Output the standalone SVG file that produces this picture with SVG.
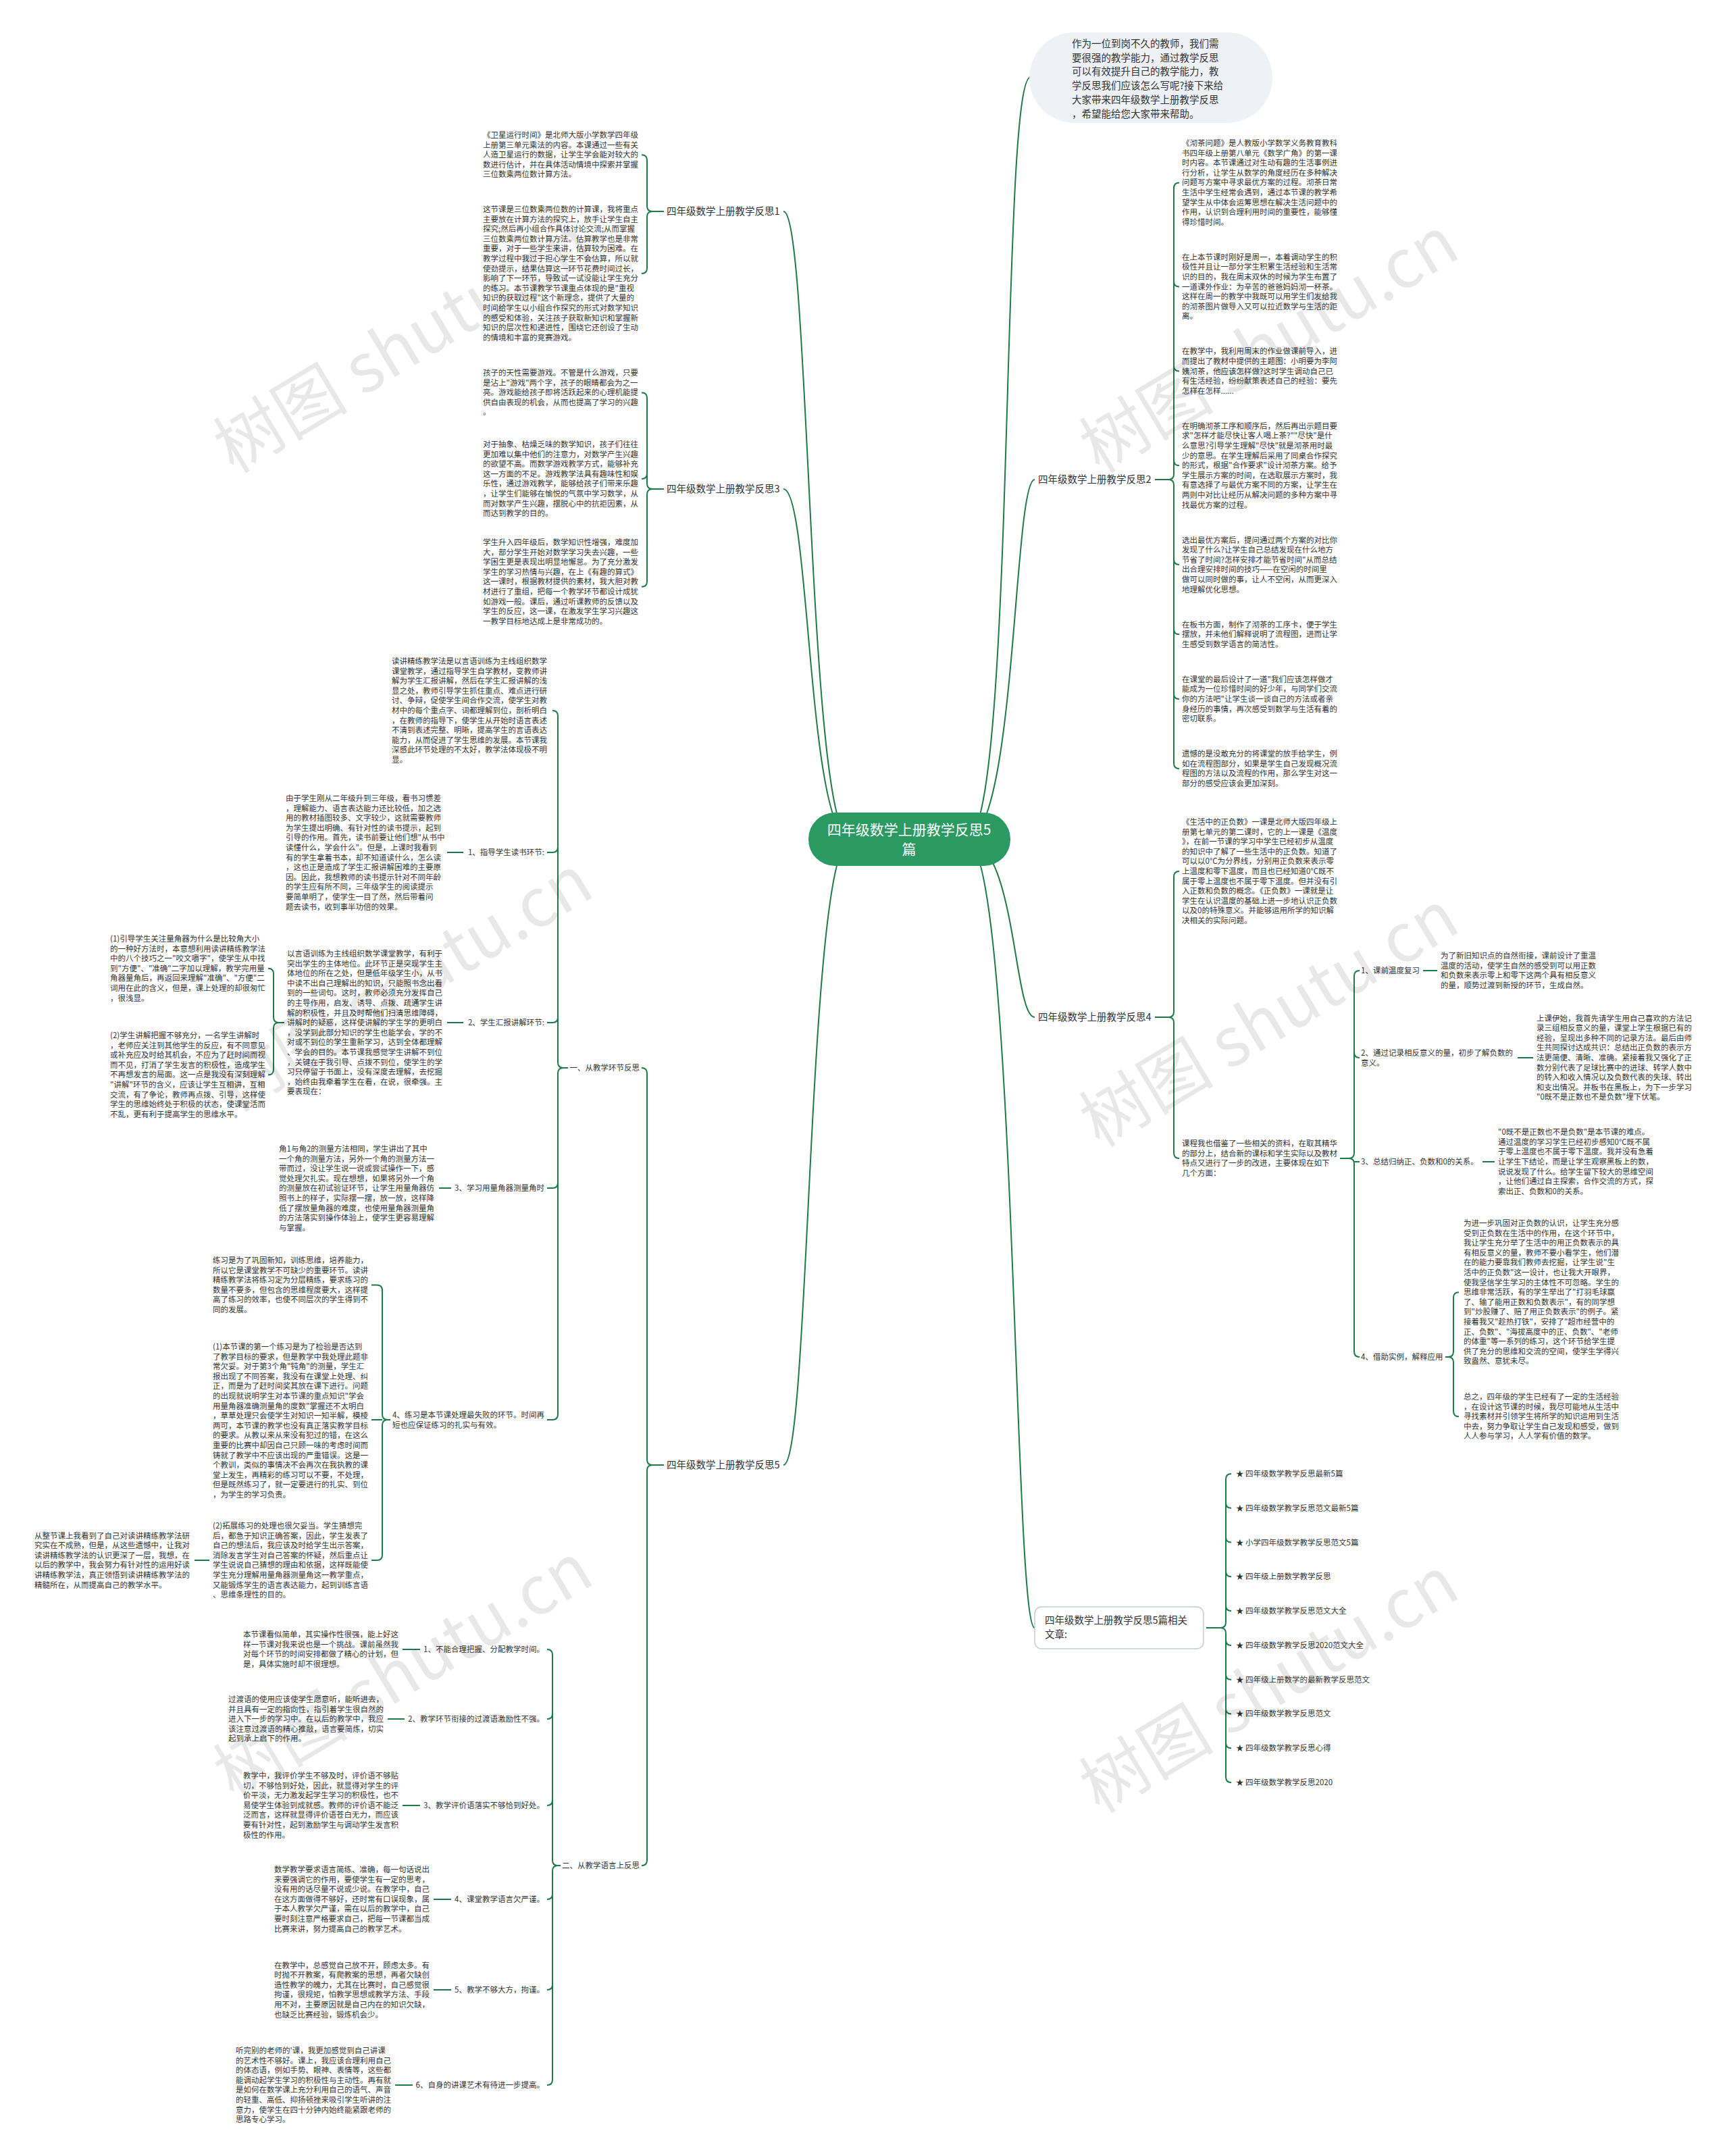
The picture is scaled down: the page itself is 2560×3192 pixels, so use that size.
<svg xmlns="http://www.w3.org/2000/svg" width="2560" height="3192" viewBox="0 0 2560 3192">
<style>
.t{font-family:"Noto Sans CJK SC","Noto Sans",sans-serif;font-size:11.5px;fill:#333}
.l{font-size:14.5px}
.c{stroke:#1f7a4a;stroke-width:2;fill:none}
.wm{font-family:"Noto Sans CJK SC","Noto Sans",sans-serif;font-size:100px;fill:#000;fill-opacity:0.09}
</style>
<rect width="2560" height="3192" fill="#fff"/>
<g id="connectors">
<path class="c" d="M1260 1243C1195 1243 1200 313 1160 313M1260 1243C1195 1243 1200 724 1160 724M1260 1243C1195 1243 1200 2169 1160 2169"/>
<path class="c" d="M1430 1243C1505 1243 1480 114 1526 114M1430 1243C1505 1243 1500 710 1532 710M1430 1243C1505 1243 1500 1506 1532 1506M1430 1243C1505 1243 1500 2410 1532 2410"/>
<path class="c" d="M950 229.2Q958 229.2 958 237.2L958 305Q958 313 966 313Q958 313 958 321L958 396.9Q958 404.9 950 404.9M966 313L983 313"/>
<path class="c" d="M950 581.2Q958 581.2 958 589.2L958 716Q958 724 966 724Q958 724 958 732L958 860.7Q958 868.7 950 868.7M958 701.1Q958 709.1 950 709.1M966 724L983 724"/>
<path class="c" d="M950 1581Q958 1581 958 1589L958 2161Q958 2169 966 2169Q958 2169 958 2177L958 2754Q958 2762 950 2762M966 2169L983 2169"/>
<path class="c" d="M818 1052Q826 1052 826 1060L826 1573Q826 1581 834 1581Q826 1581 826 1589L826 2094Q826 2102 818 2102M826 1254Q826 1262 818 1262L810 1262M826 1506Q826 1514 818 1514L810 1514M826 1751Q826 1759 818 1759L810 1759M818 2102L810 2102M834 1581L841 1581"/>
<path class="c" d="M686 1262L662 1262M686 1514L662 1514M668 1759L650 1759"/>
<path class="c" d="M397 1433.8Q405 1433.8 405 1441.8L405 1506Q405 1514 413 1514Q405 1514 405 1522L405 1583.4Q405 1591.4 397 1591.4M413 1514L421 1514"/>
<path class="c" d="M558 1902.5Q566 1902.5 566 1910.5L566 2094Q566 2102 574 2102Q566 2102 566 2110L566 2302Q566 2310 558 2310M574 2102L578 2102M566 2102L550 2102M558 1902.5L550 1902.5M558 2310L550 2310M310 2310L288 2310"/>
<path class="c" d="M810 2442Q818 2442 818 2450L818 2754Q818 2762 826 2762Q818 2762 818 2770L818 3079Q818 3087 810 3087M818 2537Q818 2545 810 2545M818 2665Q818 2673 810 2673M818 2804Q818 2812 810 2812M818 2938Q818 2946 810 2946M826 2762L830 2762"/>
<path class="c" d="M622 2442L596 2442M599 2545L574 2545M622 2673L596 2673M668 2812L642 2812M668 2946L642 2946M611 3087L585 3087"/>
<path class="c" d="M1746 270.4Q1738 270.4 1738 278.4L1738 702Q1738 710 1730 710Q1738 710 1738 718L1738 1130.1Q1738 1138.1 1746 1138.1M1738 416.6Q1738 424.6 1746 424.6M1738 541.6Q1738 549.6 1746 549.6M1738 681.2Q1738 689.2 1746 689.2M1738 828.1Q1738 836.1 1746 836.1M1738 931.2Q1738 939.2 1746 939.2M1738 1027Q1738 1035 1746 1035M1710 710L1730 710"/>
<path class="c" d="M1746 1290Q1738 1290 1738 1298L1738 1498Q1738 1506 1730 1506Q1738 1506 1738 1514L1738 1706.9Q1738 1714.9 1746 1714.9M1710 1506L1730 1506"/>
<path class="c" d="M2013 1437Q2005 1437 2005 1445L2005 1707Q2005 1715 1997 1715Q2005 1715 2005 1723L2005 2001Q2005 2009 2013 2009M2005 1558Q2005 1566 2013 1566M2005 1720L2013 1720M1984 1715L1997 1715M2107 1437L2128 1437M2247 1566L2270 1566M2195 1720L2213 1720"/>
<path class="c" d="M2160 1913.2Q2152 1913.2 2152 1921.2L2152 2001Q2152 2009 2144 2009Q2152 2009 2152 2017L2152 2089.2Q2152 2097.2 2160 2097.2M2140 2009L2144 2009"/>
<path class="c" d="M1823 2182Q1815 2182 1815 2190L1815 2402Q1815 2410 1807 2410Q1815 2410 1815 2418L1815 2631Q1815 2639 1823 2639M1815 2224.8Q1815 2232.8 1823 2232.8M1815 2275.6Q1815 2283.6 1823 2283.6M1815 2326.3Q1815 2334.3 1823 2334.3M1815 2377.1Q1815 2385.1 1823 2385.1M1815 2427.9Q1815 2435.9 1823 2435.9M1815 2478.7Q1815 2486.7 1823 2486.7M1815 2529.4Q1815 2537.4 1823 2537.4M1815 2580.2Q1815 2588.2 1823 2588.2M1786 2410L1807 2410"/>
</g>

<g id="node-center">
<rect x="1197" y="1203" width="299" height="79" rx="39" fill="#2b9a62"/>
<text class="t" x="1346" y="1236" text-anchor="middle" style="font-size:21px;fill:#fff">四年级数学上册教学反思5</text>
<text class="t" x="1346" y="1265" text-anchor="middle" style="font-size:21px;fill:#fff">篇</text>
</g>

<g id="node-intro">
<rect x="1524" y="48" width="360" height="134" rx="67" fill="#eef1f5"/>
<text class="t" x="1587" y="70" style="font-size:14.5px"><tspan x="1587">作为一位到岗不久的教师，我们需</tspan><tspan x="1587" dy="20.7">要很强的教学能力，通过教学反思</tspan><tspan x="1587" dy="20.7">可以有效提升自己的教学能力，教</tspan><tspan x="1587" dy="20.7">学反思我们应该怎么写呢?接下来给</tspan><tspan x="1587" dy="20.7">大家带来四年级数学上册教学反思</tspan><tspan x="1587" dy="20.7">，希望能给您大家带来帮助。</tspan></text>
</g>

<g id="node-r1"><text class="t l" x="987" y="318">四年级数学上册教学反思1</text></g>
<g id="node-r1a"><text class="t" x="715" y="204"><tspan x="715">《卫星运行时间》是北师大版小学数学四年级</tspan><tspan x="715" dy="14.6">上册第三单元乘法的内容。本课通过一些有关</tspan><tspan x="715" dy="14.6">人造卫星运行的数据，让学生学会能对较大的</tspan><tspan x="715" dy="14.6">数进行估计，并在具体活动情境中探索并掌握</tspan><tspan x="715" dy="14.6">三位数乘两位数计算方法。</tspan></text></g>
<g id="node-r1b"><text class="t" x="715" y="314"><tspan x="715">这节课是三位数乘两位数的计算课，我将重点</tspan><tspan x="715" dy="14.6">主要放在计算方法的探究上，放手让学生自主</tspan><tspan x="715" dy="14.6">探究;然后再小组合作具体讨论交流;从而掌握</tspan><tspan x="715" dy="14.6">三位数乘两位数计算方法。估算教学也是非常</tspan><tspan x="715" dy="14.6">重要，对于一些学生来讲，估算较为困难。在</tspan><tspan x="715" dy="14.6">教学过程中我过于担心学生不会估算，所以就</tspan><tspan x="715" dy="14.6">使劲提示，结果估算这一环节花费时间过长，</tspan><tspan x="715" dy="14.6">影响了下一环节，导致试一试没能让学生充分</tspan><tspan x="715" dy="14.6">的练习。本节课教学节课重点体现的是"重视</tspan><tspan x="715" dy="14.6">知识的获取过程"这个新理念，提供了大量的</tspan><tspan x="715" dy="14.6">时间给学生以小组合作探究的形式对数学知识</tspan><tspan x="715" dy="14.6">的感受和体验，关注孩子获取新知识和掌握新</tspan><tspan x="715" dy="14.6">知识的层次性和递进性，围绕它还创设了生动</tspan><tspan x="715" dy="14.6">的情境和丰富的竞赛游戏。</tspan></text></g>

<g id="node-r3"><text class="t l" x="987" y="729">四年级数学上册教学反思3</text></g>
<g id="node-r3a"><text class="t" x="715" y="556"><tspan x="715">孩子的天性需要游戏。不管是什么游戏，只要</tspan><tspan x="715" dy="14.6">是沾上"游戏"两个字，孩子的眼睛都会为之一</tspan><tspan x="715" dy="14.6">亮。游戏能给孩子即将活跃起来的心理机能提</tspan><tspan x="715" dy="14.6">供自由表现的机会，从而也提高了学习的兴趣</tspan><tspan x="715" dy="14.6">。</tspan></text></g>
<g id="node-r3b"><text class="t" x="715" y="662"><tspan x="715">对于抽象、枯燥乏味的数学知识，孩子们往往</tspan><tspan x="715" dy="14.6">更加难以集中他们的注意力，对数学产生兴趣</tspan><tspan x="715" dy="14.6">的欲望不高。而数学游戏教学方式，能够补充</tspan><tspan x="715" dy="14.6">这一方面的不足。游戏教学法具有趣味性和娱</tspan><tspan x="715" dy="14.6">乐性，通过游戏教学，能够给孩子们带来乐趣</tspan><tspan x="715" dy="14.6">，让学生们能够在愉悦的气氛中学习数学，从</tspan><tspan x="715" dy="14.6">而对数学产生兴趣，摆脱心中的抗拒因素，从</tspan><tspan x="715" dy="14.6">而达到教学的目的。</tspan></text></g>
<g id="node-r3c"><text class="t" x="715" y="807"><tspan x="715">学生升入四年级后，数学知识性增强，难度加</tspan><tspan x="715" dy="14.6">大，部分学生开始对数学学习失去兴趣，一些</tspan><tspan x="715" dy="14.6">学困生更是表现出明显地懈怠。为了充分激发</tspan><tspan x="715" dy="14.6">学生的学习热情与兴趣，在上《有趣的算式》</tspan><tspan x="715" dy="14.6">这一课时，根据教材提供的素材，我大胆对教</tspan><tspan x="715" dy="14.6">材进行了重组，把每一个教学环节都设计成犹</tspan><tspan x="715" dy="14.6">如游戏一般。课后，通过听课教师的反馈以及</tspan><tspan x="715" dy="14.6">学生的反应，这一课，在激发学生学习兴趣这</tspan><tspan x="715" dy="14.6">一教学目标地达成上是非常成功的。</tspan></text></g>

<g id="node-r5"><text class="t l" x="987" y="2174">四年级数学上册教学反思5</text></g>
<g id="node-r5-1"><text class="t" x="947" y="1585" text-anchor="end">一、从教学环节反思</text></g>
<g id="node-r5-2"><text class="t" x="947" y="2766" text-anchor="end">二、从教学语言上反思</text></g>
<g id="node-dujiang"><text class="t" x="580" y="983"><tspan x="580">读讲精练教学法是以言语训练为主线组织数学</tspan><tspan x="580" dy="14.6">课堂教学，通过指导学生自学教材，变教师讲</tspan><tspan x="580" dy="14.6">解为学生汇报讲解，然后在学生汇报讲解的浅</tspan><tspan x="580" dy="14.6">显之处，教师引导学生抓住重点、难点进行研</tspan><tspan x="580" dy="14.6">讨、争辩，促使学生间合作交流，使学生对教</tspan><tspan x="580" dy="14.6">材中的每个重点字、词都理解到位，剖析明白</tspan><tspan x="580" dy="14.6">，在教师的指导下，使学生从开始时语言表述</tspan><tspan x="580" dy="14.6">不清到表述完整、明晰，提高学生的言语表达</tspan><tspan x="580" dy="14.6">能力，从而促进了学生思维的发展。本节课我</tspan><tspan x="580" dy="14.6">深感此环节处理的不太好，教学法体现极不明</tspan><tspan x="580" dy="14.6">显。</tspan></text></g>
<g id="node-e1"><text class="t" x="806" y="1266" text-anchor="end">1、指导学生读书环节:</text></g>
<g id="node-e1t"><text class="t" x="423" y="1186"><tspan x="423">由于学生刚从二年级升到三年级，看书习惯差</tspan><tspan x="423" dy="14.6">，理解能力、语言表达能力还比较低，加之选</tspan><tspan x="423" dy="14.6">用的教材插图较多、文字较少，这就需要教师</tspan><tspan x="423" dy="14.6">为学生提出明确、有针对性的读书提示，起到</tspan><tspan x="423" dy="14.6">引导的作用。首先，读书前要让他们想"从书中</tspan><tspan x="423" dy="14.6">读懂什么，学会什么"。但是，上课时我看到</tspan><tspan x="423" dy="14.6">有的学生拿着书本，却不知道读什么，怎么读</tspan><tspan x="423" dy="14.6">，这也正是造成了学生汇报讲解困难的主要原</tspan><tspan x="423" dy="14.6">因。因此，我想教师的读书提示针对不同年龄</tspan><tspan x="423" dy="14.6">的学生应有所不同，三年级学生的阅读提示</tspan><tspan x="423" dy="14.6">要简单明了，使学生一目了然，然后带着问</tspan><tspan x="423" dy="14.6">题去读书，收到事半功倍的效果。</tspan></text></g>
<g id="node-e2"><text class="t" x="806" y="1518" text-anchor="end">2、学生汇报讲解环节:</text></g>
<g id="node-e2t"><text class="t" x="425" y="1416"><tspan x="425">以言语训练为主线组织数学课堂教学，有利于</tspan><tspan x="425" dy="14.6">突出学生的主体地位。此环节正是突现学生主</tspan><tspan x="425" dy="14.6">体地位的所在之处，但是低年级学生小，从书</tspan><tspan x="425" dy="14.6">中读不出自己理解出的知识，只能照书念出看</tspan><tspan x="425" dy="14.6">到的一些词句。这时，教师必须充分发挥自己</tspan><tspan x="425" dy="14.6">的主导作用，启发、诱导、点拨、疏通学生讲</tspan><tspan x="425" dy="14.6">解的积极性，并且及时帮他们扫清思维障碍，</tspan><tspan x="425" dy="14.6">讲解时的疑惑，这样使讲解的学生学的更明白</tspan><tspan x="425" dy="14.6">，没学到此部分知识的学生也能学会，学的不</tspan><tspan x="425" dy="14.6">对或不到位的学生重新学习，达到全体都理解</tspan><tspan x="425" dy="14.6">、学会的目的。本节课我感觉学生讲解不到位</tspan><tspan x="425" dy="14.6">，关键在于我引导、点拨不到位，使学生的学</tspan><tspan x="425" dy="14.6">习只停留于书面上，没有深度去理解，去挖掘</tspan><tspan x="425" dy="14.6">，始终由我牵着学生在看，在说，很牵强。主</tspan><tspan x="425" dy="14.6">要表现在：</tspan></text></g>
<g id="node-e2a"><text class="t" x="163" y="1394"><tspan x="163">(1)引导学生关注量角器为什么是比较角大小</tspan><tspan x="163" dy="14.6">的一种好方法时，本意想利用读讲精练教学法</tspan><tspan x="163" dy="14.6">中的八个技巧之一"咬文嚼字"，使学生从中找</tspan><tspan x="163" dy="14.6">到"方便"、"准确"二字加以理解，教学完用量</tspan><tspan x="163" dy="14.6">角器量角后，再返回来理解"准确"、"方便"二</tspan><tspan x="163" dy="14.6">词用在此的含义，但是，课上处理的却很匆忙</tspan><tspan x="163" dy="14.6">，很浅显。</tspan></text></g>
<g id="node-e2b"><text class="t" x="163" y="1537"><tspan x="163">(2)学生讲解把握不够充分，一名学生讲解时</tspan><tspan x="163" dy="14.6">，老师应关注到其他学生的反应，有不同意见</tspan><tspan x="163" dy="14.6">或补充应及时给其机会，不应为了赶时间而视</tspan><tspan x="163" dy="14.6">而不见，打消了学生发言的积极性，造成学生</tspan><tspan x="163" dy="14.6">不再想发言的局面。这一点是我没有深刻理解</tspan><tspan x="163" dy="14.6">"讲解"环节的含义，应该让学生互相讲，互相</tspan><tspan x="163" dy="14.6">交流，有了争论，教师再点拨、引导，这样使</tspan><tspan x="163" dy="14.6">学生的思维始终处于积极的状态，使课堂活而</tspan><tspan x="163" dy="14.6">不乱，更有利于提高学生的思维水平。</tspan></text></g>
<g id="node-e3"><text class="t" x="806" y="1763" text-anchor="end">3、学习用量角器测量角时</text></g>
<g id="node-e3t"><text class="t" x="413" y="1705"><tspan x="413">角1与角2的测量方法相同，学生讲出了其中</tspan><tspan x="413" dy="14.6">一个角的测量方法，另外一个角的测量方法一</tspan><tspan x="413" dy="14.6">带而过，没让学生说一说或尝试操作一下，感</tspan><tspan x="413" dy="14.6">觉处理欠扎实。现在想想，如果将另外一个角</tspan><tspan x="413" dy="14.6">的测量放在初试验证环节，让学生用量角器仿</tspan><tspan x="413" dy="14.6">照书上的样子，实际摆一摆，放一放，这样降</tspan><tspan x="413" dy="14.6">低了摆放量角器的难度，也使用量角器测量角</tspan><tspan x="413" dy="14.6">的方法落实到操作体验上，使学生更容易理解</tspan><tspan x="413" dy="14.6">与掌握。</tspan></text></g>
<g id="node-e4"><text class="t" x="581" y="2099"><tspan x="581">4、练习是本节课处理最失败的环节。时间再</tspan><tspan x="581" dy="14.6">短也应保证练习的扎实与有效。</tspan></text></g>
<g id="node-e4a"><text class="t" x="315" y="1870"><tspan x="315">练习是为了巩固新知，训练思维，培养能力，</tspan><tspan x="315" dy="14.6">所以它是课堂教学不可缺少的重要环节。读讲</tspan><tspan x="315" dy="14.6">精练教学法将练习定为分层精练，要求练习的</tspan><tspan x="315" dy="14.6">数量不要多，但包含的思维程度要大，这样提</tspan><tspan x="315" dy="14.6">高了练习的效率，也使不同层次的学生得到不</tspan><tspan x="315" dy="14.6">同的发展。</tspan></text></g>
<g id="node-e4b"><text class="t" x="315" y="1998"><tspan x="315">(1)本节课的第一个练习是为了检验是否达到</tspan><tspan x="315" dy="14.6">了教学目标的要求，但是教学中我处理此题非</tspan><tspan x="315" dy="14.6">常欠妥。对于第3个角"钝角"的测量，学生汇</tspan><tspan x="315" dy="14.6">报出现了不同答案，我没有在课堂上处理、纠</tspan><tspan x="315" dy="14.6">正，而是为了赶时间奖其放在课下进行。问题</tspan><tspan x="315" dy="14.6">的出现就说明学生对本节课的重点知识"学会</tspan><tspan x="315" dy="14.6">用量角器准确测量角的度数"掌握还不太明白</tspan><tspan x="315" dy="14.6">，草草处理只会使学生对知识一知半解，模棱</tspan><tspan x="315" dy="14.6">两可，本节课的教学也没有真正落实教学目标</tspan><tspan x="315" dy="14.6">的要求。从教以来从来没有犯过的错，在这么</tspan><tspan x="315" dy="14.6">重要的比赛中却因自己只顾一味的考虑时间而</tspan><tspan x="315" dy="14.6">铸就了教学中不应该出现的严重错误。这是一</tspan><tspan x="315" dy="14.6">个教训，类似的事情决不会再次在我执教的课</tspan><tspan x="315" dy="14.6">堂上发生，再精彩的练习可以不要，不处理，</tspan><tspan x="315" dy="14.6">但是既然练习了，就一定要进行的扎实、到位</tspan><tspan x="315" dy="14.6">，为学生的学习负责。</tspan></text></g>
<g id="node-e4c"><text class="t" x="315" y="2263"><tspan x="315">(2)拓展练习的处理也很欠妥当。学生猜想完</tspan><tspan x="315" dy="14.6">后，都急于知识正确答案，因此，学生发表了</tspan><tspan x="315" dy="14.6">自己的想法后，我应该及时给学生出示答案，</tspan><tspan x="315" dy="14.6">消除发言学生对自己答案的怀疑，然后重点让</tspan><tspan x="315" dy="14.6">学生说说自己猜想的理由和依据，这样既能使</tspan><tspan x="315" dy="14.6">学生充分理解用量角器测量角这一教学重点，</tspan><tspan x="315" dy="14.6">又能锻炼学生的语言表达能力，起到训练言语</tspan><tspan x="315" dy="14.6">、思维条理性的目的。</tspan></text></g>
<g id="node-e4d"><text class="t" x="51" y="2277.5"><tspan x="51">从整节课上我看到了自己对读讲精练教学法研</tspan><tspan x="51" dy="14.6">究实在不成熟，但是，从这些遗憾中，让我对</tspan><tspan x="51" dy="14.6">读讲精练教学法的认识更深了一层，我想，在</tspan><tspan x="51" dy="14.6">以后的教学中，我会努力有针对性的运用好读</tspan><tspan x="51" dy="14.6">讲精练教学法，真正领悟到读讲精练教学法的</tspan><tspan x="51" dy="14.6">精髓所在，从而提高自己的教学水平。</tspan></text></g>

<g id="node-y1"><text class="t" x="806" y="2446" text-anchor="end">1、不能合理把握、分配教学时间。</text></g>
<g id="node-y1t"><text class="t" x="360" y="2424"><tspan x="360">本节课看似简单，其实操作性很强，能上好这</tspan><tspan x="360" dy="14.6">样一节课对我来说也是一个挑战。课前虽然我</tspan><tspan x="360" dy="14.6">对每个环节的时间安排都做了精心的计划，但</tspan><tspan x="360" dy="14.6">是，具体实施时却不很理想。</tspan></text></g>
<g id="node-y2"><text class="t" x="806" y="2549" text-anchor="end">2、教学环节衔接的过渡语激励性不强。</text></g>
<g id="node-y2t"><text class="t" x="338" y="2520"><tspan x="338">过渡语的使用应该使学生愿意听，能听进去，</tspan><tspan x="338" dy="14.6">并且具有一定的指向性，指引着学生很自然的</tspan><tspan x="338" dy="14.6">进入下一步的学习中。在以后的教学中，我应</tspan><tspan x="338" dy="14.6">该注意过渡语的精心推敲，语言要简炼，切实</tspan><tspan x="338" dy="14.6">起到承上启下的作用。</tspan></text></g>
<g id="node-y3"><text class="t" x="806" y="2677" text-anchor="end">3、教学评价语落实不够恰到好处。</text></g>
<g id="node-y3t"><text class="t" x="360" y="2633"><tspan x="360">教学中，我评价学生不够及时，评价语不够贴</tspan><tspan x="360" dy="14.6">切，不够恰到好处，因此，就显得对学生的评</tspan><tspan x="360" dy="14.6">价平淡，无力激发起学生学习的积极性，也不</tspan><tspan x="360" dy="14.6">易使学生体验到成就感。教师的评价语不能泛</tspan><tspan x="360" dy="14.6">泛而言，这样就显得评价语苍白无力，而应该</tspan><tspan x="360" dy="14.6">要有针对性，起到激励学生与调动学生发言积</tspan><tspan x="360" dy="14.6">极性的作用。</tspan></text></g>
<g id="node-y4"><text class="t" x="806" y="2816" text-anchor="end">4、课堂教学语言欠严谨。</text></g>
<g id="node-y4t"><text class="t" x="406" y="2772"><tspan x="406">数学教学要求语言简练、准确，每一句话说出</tspan><tspan x="406" dy="14.6">来要强调它的作用，要使学生有一定的思考，</tspan><tspan x="406" dy="14.6">没有用的话尽量不说或少说。在教学中，自己</tspan><tspan x="406" dy="14.6">在这方面做得不够好，还时常有口误现象，属</tspan><tspan x="406" dy="14.6">于本人教学欠严谨，需在以后的教学中，自己</tspan><tspan x="406" dy="14.6">要时刻注意严格要求自己，把每一节课都当成</tspan><tspan x="406" dy="14.6">比赛来讲，努力提高自己的教学艺术。</tspan></text></g>
<g id="node-y5"><text class="t" x="806" y="2950" text-anchor="end">5、教学不够大方，拘谨。</text></g>
<g id="node-y5t"><text class="t" x="406" y="2913.5"><tspan x="406">在教学中，总感觉自己放不开，顾虑太多。有</tspan><tspan x="406" dy="14.6">时抛不开教案，有爬教案的思想，再者欠缺创</tspan><tspan x="406" dy="14.6">造性教学的魄力，尤其在比赛时，自己感觉很</tspan><tspan x="406" dy="14.6">拘谨，很规矩，怕教学思想或教学方法、手段</tspan><tspan x="406" dy="14.6">用不对，主要原因就是自己内在的知识欠缺，</tspan><tspan x="406" dy="14.6">也缺乏比赛经验，锻炼机会少。</tspan></text></g>
<g id="node-y6"><text class="t" x="806" y="3091" text-anchor="end">6、自身的讲课艺术有待进一步提高。</text></g>
<g id="node-y6t"><text class="t" x="349" y="3040"><tspan x="349">听完别的老师的'课，我更加感觉到自己讲课</tspan><tspan x="349" dy="14.6">的艺术性不够好。课上，我应该合理利用自己</tspan><tspan x="349" dy="14.6">的体态语，例如手势、眼神、表情等，这些都</tspan><tspan x="349" dy="14.6">能调动起学生学习的积极性与主动性。再有就</tspan><tspan x="349" dy="14.6">是如何在数学课上充分利用自己的语气、声音</tspan><tspan x="349" dy="14.6">的轻重、高低、抑扬顿挫来吸引学生听讲的注</tspan><tspan x="349" dy="14.6">意力，使学生在四十分钟内始终能紧跟老师的</tspan><tspan x="349" dy="14.6">思路专心学习。</tspan></text></g>

<g id="node-r2"><text class="t l" x="1537" y="715">四年级数学上册教学反思2</text></g>
<g id="node-r2a"><text class="t" x="1750" y="216"><tspan x="1750">《沏茶问题》是人教版小学数学义务教育教科</tspan><tspan x="1750" dy="14.6">书四年级上册第八单元《数学广角》的第一课</tspan><tspan x="1750" dy="14.6">时内容。本节课通过对生动有趣的生活事例进</tspan><tspan x="1750" dy="14.6">行分析，让学生从数学的角度经历在多种解决</tspan><tspan x="1750" dy="14.6">问题写方案中寻求最优方案的过程。沏茶日常</tspan><tspan x="1750" dy="14.6">生活中学生经常会遇到，通过本节课的教学希</tspan><tspan x="1750" dy="14.6">望学生从中体会运筹思想在解决生活问题中的</tspan><tspan x="1750" dy="14.6">作用，认识到合理利用时间的重要性，能够懂</tspan><tspan x="1750" dy="14.6">得珍惜时间。</tspan></text></g>
<g id="node-r2b"><text class="t" x="1750" y="384.8"><tspan x="1750">在上本节课时刚好是周一，本着调动学生的积</tspan><tspan x="1750" dy="14.6">极性并且让一部分学生积累生活经验和生活常</tspan><tspan x="1750" dy="14.6">识的目的，我在周末双休的时候为学生布置了</tspan><tspan x="1750" dy="14.6">一道课外作业：为辛苦的爸爸妈妈沏一杯茶。</tspan><tspan x="1750" dy="14.6">这样在周一的教学中我既可以用学生们发给我</tspan><tspan x="1750" dy="14.6">的沏茶图片做导入又可以拉近数学与生活的距</tspan><tspan x="1750" dy="14.6">离。</tspan></text></g>
<g id="node-r2c"><text class="t" x="1750" y="524.4"><tspan x="1750">在教学中，我利用周末的作业做课前导入，进</tspan><tspan x="1750" dy="14.6">而提出了教材中提供的主题图：小明要为李阿</tspan><tspan x="1750" dy="14.6">姨沏茶，他应该怎样做?这时学生调动自己已</tspan><tspan x="1750" dy="14.6">有生活经验，纷纷献策表述自己的经验：要先</tspan><tspan x="1750" dy="14.6">怎样在怎样......</tspan></text></g>
<g id="node-r2d"><text class="t" x="1750" y="634.8"><tspan x="1750">在明确沏茶工序和顺序后，然后再出示题目要</tspan><tspan x="1750" dy="14.6">求"怎样才能尽快让客人喝上茶?""尽快"是什</tspan><tspan x="1750" dy="14.6">么意思?引导学生理解"尽快"就是沏茶用时最</tspan><tspan x="1750" dy="14.6">少的意思。在学生理解后采用了同桌合作探究</tspan><tspan x="1750" dy="14.6">的形式，根据"合作要求"设计沏茶方案。给予</tspan><tspan x="1750" dy="14.6">学生展示方案的时间，在选取展示方案时，我</tspan><tspan x="1750" dy="14.6">有意选择了与最优方案不同的方案，让学生在</tspan><tspan x="1750" dy="14.6">两则中对比让经历从解决问题的多种方案中寻</tspan><tspan x="1750" dy="14.6">找最优方案的过程。</tspan></text></g>
<g id="node-r2e"><text class="t" x="1750" y="803.6"><tspan x="1750">选出最优方案后，提问通过两个方案的对比你</tspan><tspan x="1750" dy="14.6">发现了什么?让学生自己总结发现在什么地方</tspan><tspan x="1750" dy="14.6">节省了时间?怎样安排才能节省时间"从而总结</tspan><tspan x="1750" dy="14.6">出合理安排时间的技巧——在空闲的时间里</tspan><tspan x="1750" dy="14.6">做可以同时做的事，让人不空闲，从而更深入</tspan><tspan x="1750" dy="14.6">地理解优化思想。</tspan></text></g>
<g id="node-r2f"><text class="t" x="1750" y="928.6"><tspan x="1750">在板书方面，制作了沏茶的工序卡，便于学生</tspan><tspan x="1750" dy="14.6">摆放，并未他们解释说明了流程图，进而让学</tspan><tspan x="1750" dy="14.6">生感受到数学语言的简洁性。</tspan></text></g>
<g id="node-r2g"><text class="t" x="1750" y="1009.8"><tspan x="1750">在课堂的最后设计了一道"我们应该怎样做才</tspan><tspan x="1750" dy="14.6">能成为一位珍惜时间的好少年，与同学们交流</tspan><tspan x="1750" dy="14.6">你的方法吧"让学生谈一谈自己的方法或者亲</tspan><tspan x="1750" dy="14.6">身经历的事情，再次感受到数学与生活有着的</tspan><tspan x="1750" dy="14.6">密切联系。</tspan></text></g>
<g id="node-r2h"><text class="t" x="1750" y="1120.2"><tspan x="1750">遗憾的是没敢充分的将课堂的放手给学生，例</tspan><tspan x="1750" dy="14.6">如在流程图部分，如果是学生自己发现概况流</tspan><tspan x="1750" dy="14.6">程图的方法以及流程的作用，那么学生对这一</tspan><tspan x="1750" dy="14.6">部分的感受应该会更加深刻。</tspan></text></g>

<g id="node-r4"><text class="t l" x="1537" y="1511">四年级数学上册教学反思4</text></g>
<g id="node-r4a"><text class="t" x="1750" y="1221"><tspan x="1750">《生活中的正负数》一课是北师大版四年级上</tspan><tspan x="1750" dy="14.6">册第七单元的第二课时，它的上一课是《温度</tspan><tspan x="1750" dy="14.6">》，在前一节课的学习中学生已经初步从温度</tspan><tspan x="1750" dy="14.6">的知识中了解了一些生活中的正负数。知道了</tspan><tspan x="1750" dy="14.6">可以以0°C为分界线，分别用正负数来表示零</tspan><tspan x="1750" dy="14.6">上温度和零下温度，而且也已经知道0°C既不</tspan><tspan x="1750" dy="14.6">属于零上温度也不属于零下温度。但并没有引</tspan><tspan x="1750" dy="14.6">入正数和负数的概念。《正负数》一课就是让</tspan><tspan x="1750" dy="14.6">学生在认识温度的基础上进一步地认识正负数</tspan><tspan x="1750" dy="14.6">以及0的特殊意义。并能够运用所学的知识解</tspan><tspan x="1750" dy="14.6">决相关的实际问题。</tspan></text></g>
<g id="node-r4b"><text class="t" x="1750" y="1697"><tspan x="1750">课程我也借鉴了一些相关的资料，在取其精华</tspan><tspan x="1750" dy="14.6">的部分上，结合新的课标和学生实际以及教材</tspan><tspan x="1750" dy="14.6">特点又进行了一步的改进，主要体现在如下</tspan><tspan x="1750" dy="14.6">几个方面：</tspan></text></g>
<g id="node-k1"><text class="t" x="2015" y="1441">1、课前温度复习</text></g>
<g id="node-k1t"><text class="t" x="2133" y="1419"><tspan x="2133">为了新旧知识点的自然衔接，课前设计了重温</tspan><tspan x="2133" dy="14.6">温度的活动，使学生自然的感受到可以用正数</tspan><tspan x="2133" dy="14.6">和负数来表示零上和零下这两个具有相反意义</tspan><tspan x="2133" dy="14.6">的量，顺势过渡到新授的环节，生成自然。</tspan></text></g>
<g id="node-k2"><text class="t" x="2015" y="1563"><tspan x="2015">2、通过记录相反意义的量，初步了解负数的</tspan><tspan x="2015" dy="14.6">意义。</tspan></text></g>
<g id="node-k2t"><text class="t" x="2275" y="1511.6"><tspan x="2275">上课伊始，我首先请学生用自己喜欢的方法记</tspan><tspan x="2275" dy="14.6">录三组相反意义的量，课堂上学生根据已有的</tspan><tspan x="2275" dy="14.6">经验，呈现出多种不同的记录方法。最后由师</tspan><tspan x="2275" dy="14.6">生共同探讨达成共识：总结出正负数的表示方</tspan><tspan x="2275" dy="14.6">法更简便、清晰、准确。紧接着我又强化了正</tspan><tspan x="2275" dy="14.6">数分别代表了足球比赛中的进球、转学人数中</tspan><tspan x="2275" dy="14.6">的转入和收入情况以及负数代表的失球、转出</tspan><tspan x="2275" dy="14.6">和支出情况。并板书在黑板上，为下一步学习</tspan><tspan x="2275" dy="14.6">"0既不是正数也不是负数"埋下伏笔。</tspan></text></g>
<g id="node-k3"><text class="t" x="2015" y="1724">3、总结归纳正、负数和0的关系。</text></g>
<g id="node-k3t"><text class="t" x="2218" y="1680.2"><tspan x="2218">"0既不是正数也不是负数"是本节课的难点。</tspan><tspan x="2218" dy="14.6">通过温度的学习学生已经初步感知0°C既不属</tspan><tspan x="2218" dy="14.6">于零上温度也不属于零下温度。我并没有急着</tspan><tspan x="2218" dy="14.6">让学生下结论，而是让学生观察黑板上的数，</tspan><tspan x="2218" dy="14.6">说说发现了什么。给学生留下较大的思维空间</tspan><tspan x="2218" dy="14.6">，让他们通过自主探索，合作交流的方式，探</tspan><tspan x="2218" dy="14.6">索出正、负数和0的关系。</tspan></text></g>
<g id="node-k4"><text class="t" x="2015" y="2013">4、借助实例，解释应用</text></g>
<g id="node-k4a"><text class="t" x="2167" y="1815"><tspan x="2167">为进一步巩固对正负数的认识，让学生充分感</tspan><tspan x="2167" dy="14.6">受到正负数在生活中的作用，在这个环节中，</tspan><tspan x="2167" dy="14.6">我让学生充分举了生活中的用正负数表示的具</tspan><tspan x="2167" dy="14.6">有相反意义的量，教师不要小看学生，他们潜</tspan><tspan x="2167" dy="14.6">在的能力要靠我们教师去挖掘，让学生说"生</tspan><tspan x="2167" dy="14.6">活中的正负数"这一设计，也让我大开眼界，</tspan><tspan x="2167" dy="14.6">使我坚信学生学习的主体性不可忽略。学生的</tspan><tspan x="2167" dy="14.6">思维非常活跃，有的学生举出了"打羽毛球赢</tspan><tspan x="2167" dy="14.6">了、输了能用正数和负数表示"，有的同学想</tspan><tspan x="2167" dy="14.6">到"炒股赚了、赔了用正负数表示"的例子。紧</tspan><tspan x="2167" dy="14.6">接着我又"趁热打铁"，安排了"超市经营中的</tspan><tspan x="2167" dy="14.6">正、负数"、"海拔高度中的正、负数"、"老师</tspan><tspan x="2167" dy="14.6">的体重"等一系列的练习，这个环节给学生提</tspan><tspan x="2167" dy="14.6">供了充分的思维和交流的空间，使学生学得兴</tspan><tspan x="2167" dy="14.6">致盎然、意犹未尽。</tspan></text></g>
<g id="node-k4b"><text class="t" x="2167" y="2072"><tspan x="2167">总之，四年级的学生已经有了一定的生活经验</tspan><tspan x="2167" dy="14.6">，在设计这节课的时候，我尽可能地从生活中</tspan><tspan x="2167" dy="14.6">寻找素材并引领学生将所学的知识运用到生活</tspan><tspan x="2167" dy="14.6">中去，努力争取让学生自己发现和感受，做到</tspan><tspan x="2167" dy="14.6">人人参与学习，人人学有价值的数学。</tspan></text></g>

<g id="node-related">
<rect x="1532" y="2379" width="250" height="62" rx="10" fill="#fff" stroke="#c5ccd3" stroke-width="1.5"/>
<text class="t l" x="1547" y="2404"><tspan x="1547">四年级数学上册教学反思5篇相关</tspan><tspan x="1547" dy="21">文章:</tspan></text>
</g>
<g id="node-links">
<text class="t" x="1830" y="2186">★ 四年级数学教学反思最新5篇</text>
<text class="t" x="1830" y="2236.8">★ 四年级数学教学反思范文最新5篇</text>
<text class="t" x="1830" y="2287.6">★ 小学四年级数学教学反思范文5篇</text>
<text class="t" x="1830" y="2338.3">★ 四年级上册数学教学反思</text>
<text class="t" x="1830" y="2389.1">★ 四年级数学教学反思范文大全</text>
<text class="t" x="1830" y="2439.9">★ 四年级数学教学反思2020范文大全</text>
<text class="t" x="1830" y="2490.7">★ 四年级上册数学的最新教学反思范文</text>
<text class="t" x="1830" y="2541.4">★ 四年级数学教学反思范文</text>
<text class="t" x="1830" y="2592.2">★ 四年级数学教学反思心得</text>
<text class="t" x="1830" y="2643">★ 四年级数学教学反思2020</text>
</g>

<g id="watermark">
<text class="wm" x="346" y="702" transform="rotate(-31 346 702)">树图 shutu.cn</text>
<text class="wm" x="1628" y="702" transform="rotate(-31 1628 702)">树图 shutu.cn</text>
<text class="wm" x="346" y="1648" transform="rotate(-31 346 1648)">树图 shutu.cn</text>
<text class="wm" x="1628" y="1700" transform="rotate(-31 1628 1700)">树图 shutu.cn</text>
<text class="wm" x="346" y="2666" transform="rotate(-31 346 2666)">树图 shutu.cn</text>
<text class="wm" x="1628" y="2686" transform="rotate(-31 1628 2686)">树图 shutu.cn</text>
</g>
</svg>
